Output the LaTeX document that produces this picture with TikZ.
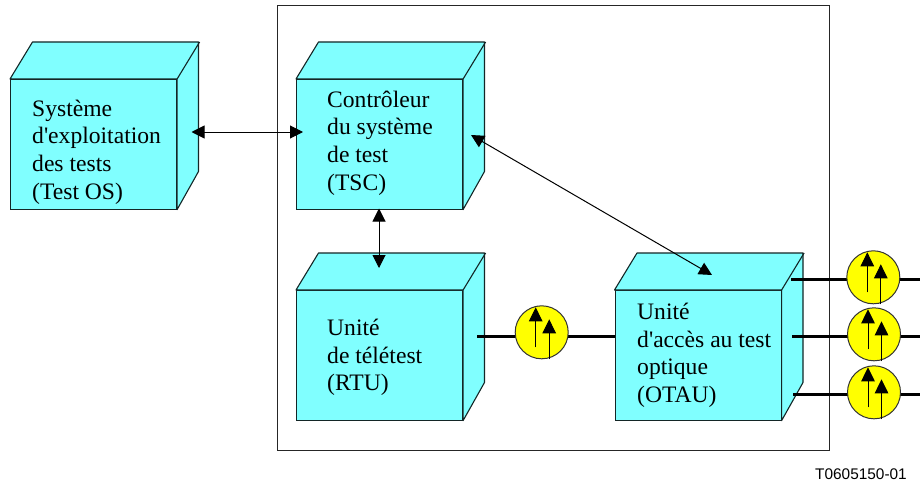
\documentclass[tikz,border=0pt]{standalone}
\usepackage{fontspec}
\setmainfont{Liberation Serif}
\setsansfont{Liberation Sans}
\usetikzlibrary{arrows.meta}

\definecolor{cubeC}{RGB}{128,255,255}
\definecolor{tapC}{RGB}{255,255,0}

\newcommand{\cubeN}[6]{%
  \node[frontN] (#1) at (#2,#3) {};
  \draw[cubeL,fill=cubeC] (#1.north west) -- ++(22.5,-37) -- ++(166,0)
    -- ++(0,129.5) -- (#1.south east) -- (#1.north east) -- cycle;
  \draw[cubeL] (#1.north east) -- ++(22.5,-37);
  \node[textN] (#1T) at (#2+#4,#3+#5) {#6};
}
\newcommand{\tapN}[3]{%
  \node[tapS] (#1) at (#2,#3) {};
  \draw[upA] (#1.center) ++(-6,15) -- ++(0,-40);
  \draw[upA] (#1.center) ++(7.5,27) -- ++(0,-40);
}

\begin{document}
\begin{tikzpicture}
  [x=1pt,y=-1pt,
   frontN/.style={rectangle,draw=black!85!cubeC,line width=1.1pt,fill=cubeC,anchor=north west,
     minimum width=166pt,minimum height=129.5pt,inner sep=0pt},
   cubeL/.style={draw=black!85!cubeC,line width=1.1pt,line join=round},
   textN/.style={anchor=west,align=left,inner sep=0pt,font=\fontsize{23.6}{27.6}\selectfont},
   tapS/.style={circle,draw=black!80,fill=tapC,line width=1pt,minimum size=53pt,inner sep=0pt},
   upA/.style={line width=1pt,-{Triangle[length=14pt,width=13.5pt]}},
   bothA/.style={line width=1pt,{Triangle[length=13pt,width=13pt]}-{Triangle[length=13pt,width=13pt]}},
   fibreL/.style={line width=2.6pt}]

  \useasboundingbox (0,0) rectangle (920,484);

  \node[draw=black!85,line width=1pt,minimum width=552pt,minimum height=445pt,inner sep=0pt,anchor=north west] (frame) at (276.7,5.3) {};

  \cubeN{os}{10}{79}{22}{73}{Système\\d\textquotesingle exploitation\\des tests\\(Test OS)}
  \cubeN{tsc}{296}{79}{31}{64}{Contrôleur\\du système\\de test\\(TSC)}
  \cubeN{rtu}{296}{290}{31}{67.5}{Unité\\de télétest\\(RTU)}
  \cubeN{otau}{614.5}{290}{22.5}{65.5}{Unité\\d\textquotesingle accès au test\\optique\\(OTAU)}

  \coordinate (osE) at (191.5,132);
  \coordinate (tscW) at (303,132);
  \coordinate (tscS) at (379,208.5);
  \coordinate (rtuN) at (379,268);
  \coordinate (tscE) at (471,135);
  \coordinate (otauN) at (712,275);
  \coordinate (rtuE) at (477,336.3);
  \coordinate (otauA) at (791,279.3);
  \coordinate (otauB) at (792,336.3);
  \coordinate (otauC) at (793,394.3);
  \coordinate (endA) at (920,279.3);
  \coordinate (endB) at (920,336.3);
  \coordinate (endC) at (920,394.3);

  \draw [bothA] (osE) -- (tscW);
  \draw [bothA] (tscS) -- (rtuN);
  \draw [bothA] (tscE) -- (otauN);

  \draw [fibreL] (rtuE) -- (otau.west |- rtuE);
  \draw [fibreL] (otauA) -- (endA);
  \draw [fibreL] (otauB) -- (endB);
  \draw [fibreL] (otauC) -- (endC);

  \tapN{tapR}{541.7}{332.3}
  \tapN{tapA}{873.3}{277.3}
  \tapN{tapB}{874}{334.3}
  \tapN{tapC}{874}{392.3}

  \node[anchor=east,inner sep=0pt,font=\sffamily\fontsize{15.4}{17}\selectfont] (ref) at (907,474) {T0605150-01};
\end{tikzpicture}
\end{document}
